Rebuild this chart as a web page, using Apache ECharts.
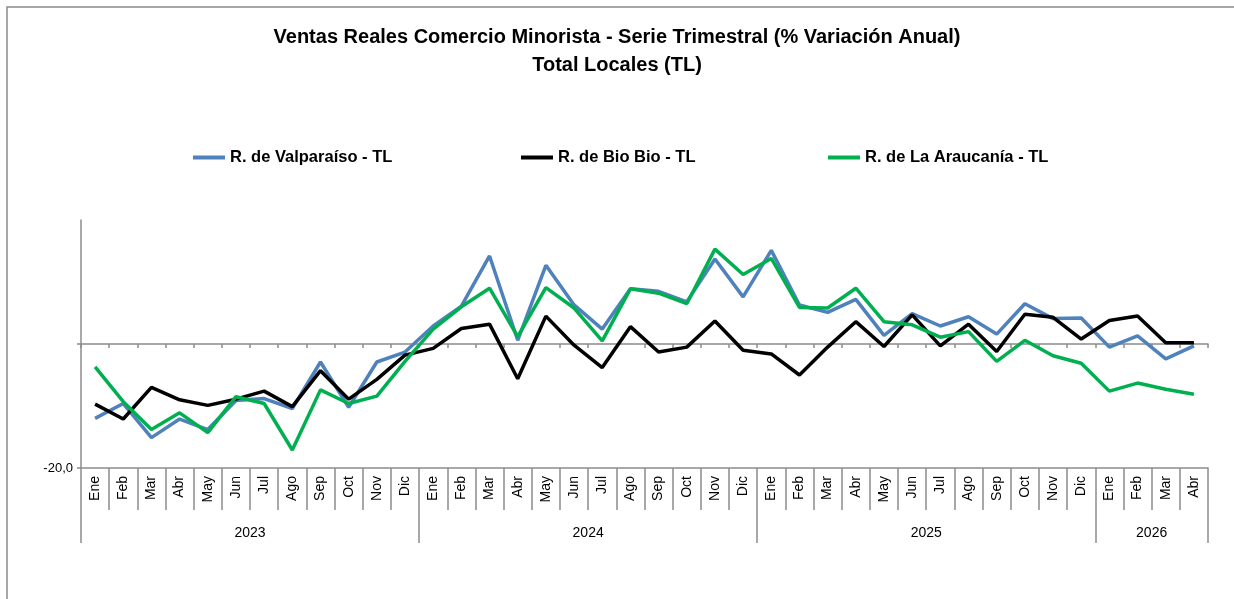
<!DOCTYPE html>
<html>
<head>
<meta charset="utf-8">
<script src="https://cdn.jsdelivr.net/npm/echarts@6/dist/echarts.min.js"></script>
<style>
  html, body { margin: 0; padding: 0; background: #fff; }
  #chart { width: 1234px; height: 599px; }
</style>
</head>
<body>
<div id="chart"></div>
<script>
const monthNames = ['Ene', 'Feb', 'Mar', 'Abr', 'May', 'Jun', 'Jul', 'Ago', 'Sep', 'Oct', 'Nov', 'Dic'];
const months = [].concat(monthNames, monthNames, monthNames, monthNames.slice(0, 4));
const years = ['2023', '2024', '2025', '2026'];
// month index where each year starts, last entry closes 2026
const yearBounds = [0, 12, 24, 36, 40];

const valparaiso = [
  -12.0, -9.6, -15.1, -12.1, -13.8, -9.1, -8.8, -10.4, -2.9, -10.2, -2.9, -1.3,
  2.9, 6.1, 14.2, 0.6, 12.7, 6.3, 2.4, 8.9, 8.5, 6.8, 13.7, 7.6,
  15.1, 6.3, 5.1, 7.2, 1.4, 4.9, 2.9, 4.4, 1.6, 6.5, 4.1, 4.2,
  -0.5, 1.3, -2.4, -0.3
];
const bioBio = [
  -9.7, -12.1, -7.0, -9.0, -9.9, -8.9, -7.6, -10.1, -4.3, -8.9, -5.7, -1.8,
  -0.7, 2.5, 3.2, -5.6, 4.5, -0.2, -3.8, 2.8, -1.3, -0.5, 3.7, -1.0,
  -1.6, -5.0, -0.5, 3.6, -0.4, 4.7, -0.3, 3.2, -1.2, 4.8, 4.3, 0.8,
  3.8, 4.5, 0.2, 0.2
];
const araucania = [
  -3.7, -9.3, -13.8, -11.1, -14.3, -8.5, -9.6, -17.1, -7.4, -9.6, -8.4, -2.8,
  2.4, 6.0, 9.0, 1.2, 9.1, 5.8, 0.5, 8.9, 8.2, 6.5, 15.3, 11.2,
  13.8, 5.9, 5.8, 9.0, 3.6, 3.1, 1.1, 2.0, -2.8, 0.6, -1.9, -3.1,
  -7.6, -6.3, -7.3, -8.1
];

const FONT = 'Liberation Sans';
const AXIS_GRAY = '#8c8c8c';

const yearMids = years.map((y, i) => (yearBounds[i] + yearBounds[i + 1]) / 2);

const chart = echarts.init(document.getElementById('chart'));

const legendItem = (name, left) => ({
  data: [name],
  left: left,
  top: 149,
  padding: 0,
  icon: 'rect',
  itemWidth: 32,
  itemHeight: 4,
  itemGap: 4,
  selectedMode: false,
  textStyle: { fontFamily: FONT, fontWeight: 'bold', fontSize: 16.5, color: '#000' }
});

chart.setOption({
  backgroundColor: '#fff',
  animation: false,
  graphic: [{
    type: 'rect',
    shape: { x: 7, y: 7, width: 1400, height: 800 },
    style: { fill: 'none', stroke: '#8a8a8a', lineWidth: 1.5 },
    silent: true
  }],
  title: {
    text: 'Ventas Reales Comercio Minorista - Serie Trimestral (% Variación Anual)\nTotal Locales (TL)',
    left: 'center',
    top: 18,
    textStyle: { fontFamily: FONT, fontWeight: 'bold', fontSize: 20, lineHeight: 28, color: '#000' }
  },
  legend: [
    legendItem('R. de Valparaíso - TL', 193),
    legendItem('R. de Bio Bio - TL', 521),
    legendItem('R. de La Araucanía - TL', 828)
  ],
  grid: { left: 81, right: 26, top: 220, bottom: 131 },
  xAxis: [
    {
      // month row at the bottom of the plot
      type: 'category',
      data: months,
      position: 'bottom',
      boundaryGap: true,
      axisLine: { show: true, onZero: false, lineStyle: { color: AXIS_GRAY, width: 1.5 } },
      axisTick: { show: true, interval: 0, length: 42, lineStyle: { color: AXIS_GRAY, width: 1.5 } },
      axisLabel: { interval: 0, rotate: 90, margin: 8, fontFamily: FONT, fontSize: 14, color: '#000' },
      splitLine: { show: false }
    },
    {
      // year row
      type: 'value',
      min: 0,
      max: 40,
      position: 'bottom',
      offset: 42,
      axisLine: { show: false, onZero: false },
      axisTick: { show: true, customValues: yearBounds, length: 33, lineStyle: { color: AXIS_GRAY, width: 1.5 } },
      axisLabel: {
        customValues: yearMids,
        margin: 16,
        fontFamily: FONT, fontSize: 14, color: '#000',
        formatter: v => years[yearMids.indexOf(v)] || ''
      },
      splitLine: { show: false }
    },
    {
      // zero line with short ticks
      type: 'category',
      data: months,
      position: 'bottom',
      boundaryGap: true,
      axisLine: { show: true, onZero: true, lineStyle: { color: AXIS_GRAY, width: 1.5 } },
      axisTick: { show: true, interval: 0, length: 4, lineStyle: { color: AXIS_GRAY, width: 1.5 } },
      axisLabel: { show: false },
      splitLine: { show: false }
    }
  ],
  yAxis: {
    type: 'value',
    min: -20,
    max: 20,
    interval: 20,
    axisLine: { show: true, onZero: false, lineStyle: { color: AXIS_GRAY, width: 1.5 } },
    axisTick: { show: true, customValues: [-20, 0], length: 4, lineStyle: { color: AXIS_GRAY, width: 1.5 } },
    axisLabel: {
      fontFamily: FONT, fontSize: 13, color: '#000', margin: 8,
      formatter: v => (v === -20 ? '-20,0' : '')
    },
    splitLine: { show: false }
  },
  series: [
    { name: 'R. de Valparaíso - TL', type: 'line', data: valparaiso, symbol: 'none', color: '#4f81bd', lineStyle: { width: 3.5, color: '#4f81bd' } },
    { name: 'R. de Bio Bio - TL', type: 'line', data: bioBio, symbol: 'none', color: '#000000', lineStyle: { width: 3.5, color: '#000000' } },
    { name: 'R. de La Araucanía - TL', type: 'line', data: araucania, symbol: 'none', color: '#00b050', lineStyle: { width: 3.5, color: '#00b050' } }
  ]
});
</script>
</body>
</html>
